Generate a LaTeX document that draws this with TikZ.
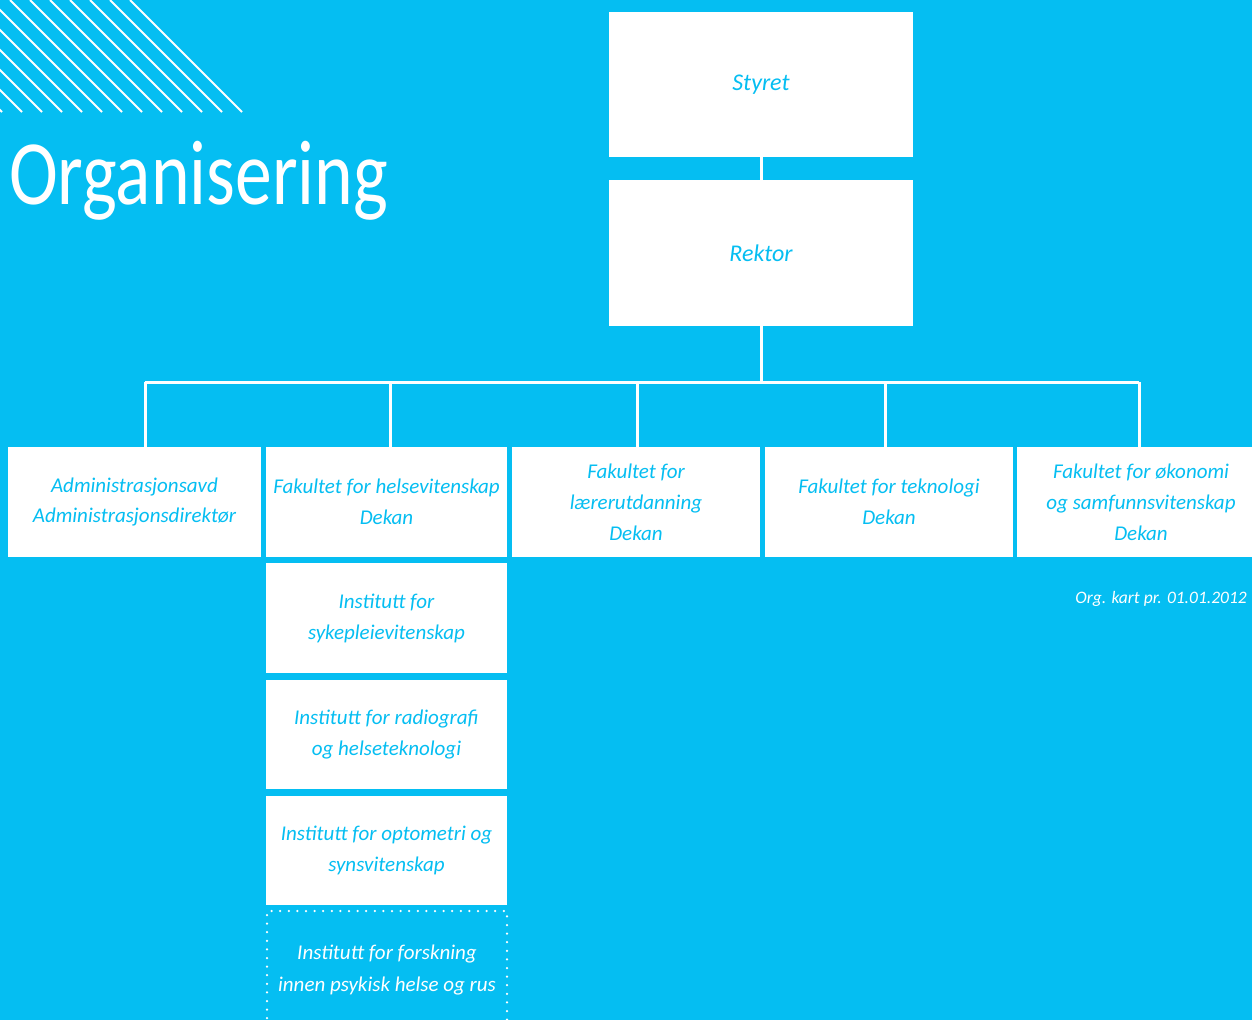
\documentclass[tikz,border=0pt]{standalone}
\usepackage{fontspec}
\setmainfont{Carlito}
\newfontfamily\titlefont{Carlito}
\definecolor{orgblue}{RGB}{5,190,242}
\tikzset{
  orgbox/.style={fill=white, text=orgblue, align=center, inner sep=0pt,
    font=\fontsize{21}{31}\selectfont\itshape},
  topbox/.style={orgbox, minimum width=304pt,
    font=\fontsize{24}{30}\selectfont\itshape},
  dotbox/.style={draw=white, line width=2.5pt, line cap=round,
    dash pattern=on 0pt off 8.6pt, text=white, align=center, inner sep=0pt,
    font=\fontsize{21}{32}\selectfont\itshape},
  link/.style={draw=white, line width=3pt}
}
\begin{document}
\begin{tikzpicture}[x=1pt, y=-1pt]
    \fill[orgblue] (0,0) rectangle (1252,1020);
    \useasboundingbox (0,0) rectangle (1252,1020);
    % stripes
    \begin{scope}
      \clip (0,0) rectangle (260,112);
      \foreach \c in {-110,-90,...,130}
        \draw[white, line width=2pt] (\c,0) -- (\c+112,112);
    \end{scope}
    \node[anchor=base west, inner sep=0pt, text=white] (title) at (9,204)
      {\scalebox{0.8}[1]{\titlefont\fontsize{92}{92}\selectfont Organisering}};
    % top
    \node[topbox, minimum height=145pt] (t_0) at (761,84.5) {Styret};
    \node[topbox, minimum height=146pt] (t_1) at (761,253) {Rektor};
    % faculties
    \node[orgbox, minimum width=253pt, minimum height=110pt] (f_0) at (134.5,502)
      {Administrasjonsavd\\Administrasjonsdirektør};
    \node[orgbox, minimum width=241pt, minimum height=110pt] (f_1) at (386.5,502)
      {Fakultet for helsevitenskap\\Dekan};
    \node[orgbox, minimum width=248pt, minimum height=110pt] (f_2) at (636,502)
      {Fakultet for\\lærerutdanning\\Dekan};
    \node[orgbox, minimum width=248pt, minimum height=110pt] (f_3) at (889,502)
      {Fakultet for teknologi\\Dekan};
    \node[orgbox, minimum width=248pt, minimum height=110pt] (f_4) at (1141,502)
      {Fakultet for økonomi\\og samfunnsvitenskap\\Dekan};
    % institutes
    \node[orgbox, minimum width=241pt, minimum height=110pt] (i_0) at (386.5,618)
      {Institutt for\\sykepleievitenskap};
    \node[orgbox, minimum width=241pt, minimum height=109pt] (i_1) at (386.5,734.5)
      {Institutt for radiografi\\og helseteknologi};
    \node[orgbox, minimum width=241pt, minimum height=109pt] (i_2) at (386.5,850.5)
      {Institutt for optometri og\\synsvitenskap};
    \node[dotbox, minimum width=240pt, minimum height=118pt] (i_3) at (387,970)
      {Institutt for forskning\\innen psykisk helse og rus};
    \node[anchor=base east, inner sep=0pt, text=white,
      font=\fontsize{17.5}{20}\selectfont\itshape] (date) at (1247,603)
      {Org. kart pr. 01.01.2012};
    % links
    \coordinate (bus) at (761,382);
    \coordinate (d_0) at (145,382);
    \coordinate (d_1) at (390,382);
    \coordinate (d_2) at (637,382);
    \coordinate (d_3) at (885,382);
    \coordinate (d_4) at (1139,382);
    \draw[link] (t_0) -- (t_1);
    \draw[link] (t_1) -- (bus);
    \draw[link] (d_0) -- (d_4);
    \draw[link] (d_0) -- (d_0 |- f_0.north);
    \draw[link] (d_1) -- (d_1 |- f_1.north);
    \draw[link] (d_2) -- (d_2 |- f_2.north);
    \draw[link] (d_3) -- (d_3 |- f_3.north);
    \draw[link] (d_4) -- (d_4 |- f_4.north);
  \end{tikzpicture}
\end{document}
